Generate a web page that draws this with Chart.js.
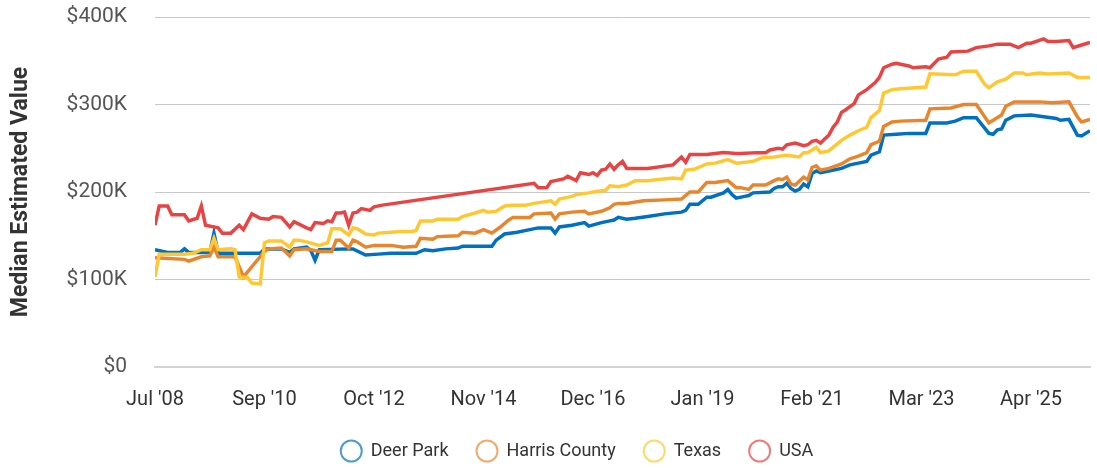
<!DOCTYPE html>
<html lang="en">
<head>
    <meta charset="UTF-8">
    <title>Median Estimated Value</title>
    <style>
        html, body { margin: 0; padding: 0; background: #fff; }
        #wrap { width: 1097px; height: 468px; }
    </style>
</head>
<body>
    <div id="wrap"><canvas id="valueChart"></canvas></div>

    <script src="https://cdn.jsdelivr.net/npm/chart.js"></script>
    <script>
        // x = months since Jul 2008, y = median value in $K
        const tickLabels = ["Jul '08", "Sep '10", "Oct '12", "Nov '14", "Dec '16", "Jan '19", "Feb '21", "Mar '23", "Apr '25"];
        const tickStep = 26;
        const lastMonth = 222;

        const seriesNames = ['Deer Park', 'Harris County', 'Texas', 'USA'];
        const lineColors = ['#0070c0', '#e8862d', '#ffc832', '#e84444'];
        const legendColors = ['rgba(0,112,192,0.7)', 'rgba(232,134,45,0.7)', 'rgba(255,200,50,0.7)', 'rgba(232,68,68,0.7)'];

        const deerPark = [
            [0,134],[3,131],[6,131],[7,135],[8,131],[13,131],[14,153],[15,130],[25,130],[26,135],[30,135],[32,131],[33,135],
            [36,137],[37,133],[38,122],[39,134],[46,135],[47,135],[50,128],[53,129],[56,130],[62,130],[64,134],[66,133],
            [69,135],[72,136],[73,138],[80,138],[81,145],[83,152],[86,154],[89,157],[91,159],[94,159],[95,153],[96,160],
            [99,162],[102,165],[103,161],[106,165],[108,167],[109,168],[110,171],[112,169],[114,170],[117,172],[121,175],
            [125,177],[126,179],[127,186],[129,186],[131,194],[132,194],[135,199],[136,203],[137,197],[138,193],[140,195],
            [141,196],[142,199],[146,200],[147,204],[148,206],[149,206],[150,210],[151,204],[152,201],[153,203],[154,209],
            [155,206],[156,221],[157,224],[158,222],[160,224],[163,227],[165,231],[167,233],[169,235],[170,242],[172,246],
            [173,265],[176,266],[179,267],[183,267],[184,279],[188,279],[190,281],[192,285],[195,285],[198,267],[199,266],
            [200,271],[201,272],[202,282],[204,287],[208,288],[211,286],[214,284],[215,282],[217,283],[219,265],[220,264],[222,270]
        ];
        const harrisCounty = [
            [0,125],[7,123],[8,121],[11,126],[13,127],[14,137],[15,126],[19,126],[21,103],[26,132],[27,135],[30,136],
            [32,127],[33,134],[36,135],[39,132],[42,132],[43,145],[44,145],[46,136],[47,145],[48,143],[50,137],[52,139],
            [56,139],[59,137],[62,138],[63,147],[66,146],[67,149],[72,150],[73,154],[76,153],[78,157],[80,153],[82,160],
            [84,168],[85,171],[89,171],[90,175],[94,176],[95,169],[96,175],[99,177],[102,178],[103,175],[106,178],[108,182],
            [109,186],[110,187],[112,187],[116,190],[121,191],[125,192],[127,200],[129,200],[131,211],[133,211],[136,213],
            [138,205],[139,205],[141,203],[142,208],[145,208],[147,213],[148,215],[149,214],[150,217],[151,209],[152,208],
            [154,217],[155,214],[156,228],[157,230],[158,225],[160,227],[163,232],[165,238],[167,241],[169,245],[170,254],
            [172,258],[173,275],[175,280],[177,281],[183,282],[184,295],[189,296],[192,300],[195,300],[198,279],[199,282],
            [201,288],[202,298],[204,303],[210,303],[213,302],[217,303],[219,286],[220,280],[222,283]
        ];
        const texas = [
            [0,103],[1,129],[7,129],[9,130],[11,134],[13,134],[14,147],[15,134],[18,135],[19,134],[20,103],[22,102],[23,96],
            [25,95],[26,142],[27,144],[30,144],[32,137],[33,145],[34,145],[36,143],[39,139],[41,142],[42,158],[44,158],
            [46,151],[47,159],[48,158],[50,152],[52,151],[53,153],[56,154],[59,155],[61,155],[62,156],[63,167],[66,167],
            [67,169],[72,169],[73,172],[76,176],[78,179],[79,177],[81,178],[83,184],[85,185],[88,185],[90,187],[94,190],
            [95,186],[96,192],[99,195],[100,197],[103,199],[104,200],[107,202],[108,207],[110,206],[112,208],[114,213],
            [117,213],[119,214],[123,216],[125,215],[126,225],[128,226],[131,232],[133,233],[136,237],[138,233],[142,235],
            [144,239],[147,240],[150,242],[153,240],[154,245],[155,245],[157,251],[158,245],[160,247],[162,255],[163,259],
            [165,265],[167,270],[169,274],[170,285],[172,293],[173,313],[175,317],[177,318],[183,320],[184,335],[190,334],
            [192,338],[195,338],[197,323],[198,319],[200,326],[202,329],[204,336],[206,336],[207,334],[210,336],[212,335],
            [217,336],[219,331],[222,331]
        ];
        const usa = [
            [0,162],[1,184],[3,184],[4,174],[7,174],[8,167],[10,170],[11,184],[12,162],[15,159],[16,153],[18,153],[20,162],
            [21,157],[23,175],[25,170],[27,169],[28,172],[30,171],[32,160],[33,166],[36,159],[37,157],[38,165],[40,164],
            [41,167],[42,166],[43,176],[44,176],[45,177],[46,162],[47,176],[48,177],[49,181],[51,179],[52,183],[54,185],
            [90,210],[91,205],[93,205],[94,212],[97,215],[98,218],[100,213],[101,222],[103,220],[104,222],[105,219],[106,225],
            [107,226],[108,232],[109,226],[110,231],[111,235],[112,227],[117,227],[123,231],[125,240],[126,234],[127,243],
            [131,243],[135,245],[138,244],[139,244],[143,245],[145,245],[146,248],[148,250],[149,249],[150,254],[152,256],
            [154,253],[155,254],[156,258],[157,259],[158,256],[160,265],[161,274],[162,280],[163,291],[164,294],[166,301],
            [167,311],[169,317],[171,325],[172,331],[173,342],[175,346],[176,347],[177,346],[179,344],[180,342],[183,343],
            [184,342],[186,352],[188,354],[189,360],[193,361],[195,365],[198,367],[200,369],[203,369],[205,365],[207,370],
            [208,370],[211,375],[212,372],[214,372],[217,373],[218,365],[220,368],[222,371]
        ];

        const allSeries = [deerPark, harrisCounty, texas, usa];

        function toPoints(series) {
            return series.map(p => ({ x: p[0], y: p[1] }));
        }

        const datasets = allSeries.map((series, i) => ({
            label: seriesNames[i],
            data: toPoints(series),
            borderColor: lineColors[i],
            backgroundColor: '#fff',
            borderWidth: 3.5,
            pointRadius: 0,
            pointHoverRadius: 0,
            tension: 0,
            order: allSeries.length - i   // later series sit on top
        }));

        // legend sits a bit right of the canvas centre in the original
        const legendShift = {
            id: 'legendShift',
            afterLayout(c) {
                c.legend.left += 32;
                c.legend.right += 32;
            }
        };

        const ctx = document.getElementById('valueChart').getContext('2d');
        const chart = new Chart(ctx, {
            type: 'line',
            data: { datasets: datasets },
            plugins: [legendShift],
            options: {
                responsive: true,
                maintainAspectRatio: false,
                animation: false,
                layout: { padding: { top: 17, right: 7, bottom: -2, left: 0 } },
                plugins: {
                    tooltip: { enabled: false },
                    legend: {
                        position: 'bottom',
                        labels: {
                            usePointStyle: true,
                            pointStyle: 'circle',
                            boxHeight: 15,
                            pointStyleWidth: 21,
                            padding: 28,
                            color: '#333',
                            font: { family: 'Roboto', size: 18 },
                            sort: (a, b) => a.datasetIndex - b.datasetIndex,
                            generateLabels: (c) => {
                                const items = Chart.defaults.plugins.legend.labels.generateLabels(c);
                                items.forEach(it => {
                                    it.fillStyle = '#fff';
                                    it.strokeStyle = legendColors[it.datasetIndex];
                                    it.lineWidth = 2;
                                });
                                return items;
                            }
                        }
                    }
                },
                scales: {
                    x: {
                        type: 'linear',
                        min: 0,
                        max: lastMonth,
                        grid: { display: false, drawTicks: false },
                        border: { display: true, color: '#d4d4d4', width: 2 },
                        afterFit: (s) => { s.height = 47; },
                        afterBuildTicks: (s) => {
                            s.ticks = tickLabels.map((_, i) => ({ value: i * tickStep }));
                        },
                        ticks: {
                            autoSkip: false,
                            maxRotation: 0,
                            padding: 21,
                            color: '#333',
                            font: { family: 'Roboto', size: 20 },
                            callback: (v) => tickLabels[Math.round(v / tickStep)] || ''
                        }
                    },
                    y: {
                        min: 0,
                        max: 400,
                        afterFit: (s) => { s.width = 155; },
                        // invisible tick marks give the label gap without extra top padding
                        grid: { color: '#c8c8c8', drawTicks: true, tickLength: 28, tickColor: 'rgba(0,0,0,0)' },
                        border: { display: false },
                        ticks: {
                            stepSize: 100,
                            padding: 0,
                            color: '#555',
                            font: { family: 'Roboto', size: 21 },
                            callback: (v) => v === 0 ? '$0' : '$' + v + 'K'
                        },
                        title: {
                            display: true,
                            text: 'Median Estimated Value',
                            color: '#333',
                            padding: { top: 7, bottom: 0 },
                            font: { family: 'Roboto', size: 23, weight: 'bold' }
                        }
                    }
                }
            }
        });
    </script>
</body>
</html>
